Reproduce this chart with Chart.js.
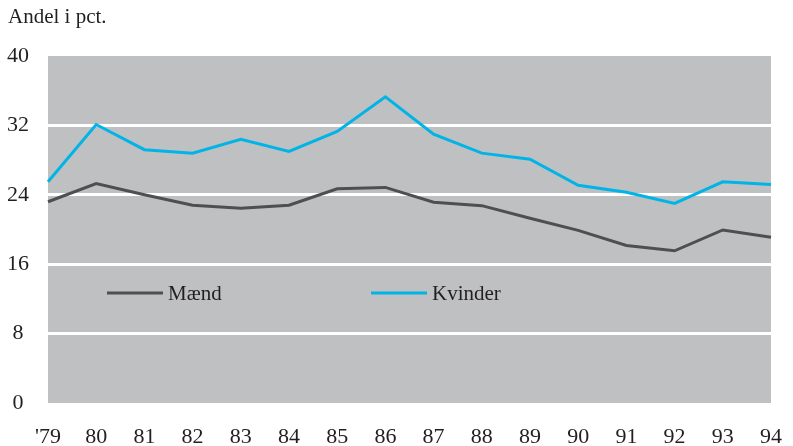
<!DOCTYPE html>
<html>
<head>
<meta charset="utf-8">
<script src="https://cdn.jsdelivr.net/npm/chart.js@4"></script>
<style>
  html, body { margin: 0; padding: 0; background: #fff; }
  #wrap { width: 793px; height: 446px; }
</style>
</head>
<body>
<div id="wrap"><canvas id="chart" width="793" height="446"></canvas></div>
<script>
// Data
const years = ["'79", '80', '81', '82', '83', '84', '85', '86', '87', '88', '89', '90', '91', '92', '93', '94'];
const maend = [23.2, 25.3, 24.0, 22.8, 22.45, 22.8, 24.7, 24.85, 23.15, 22.75, 21.3, 19.9, 18.15, 17.55, 19.95, 19.1];
const kvinder = [25.5, 32.1, 29.2, 28.8, 30.4, 29.0, 31.3, 35.3, 31.0, 28.8, 28.1, 25.1, 24.3, 23.0, 25.5, 25.2];
const yTicks = [0, 8, 16, 24, 32, 40];

const FONT = '"Liberation Serif", "Times New Roman", serif';
const TEXT = '#231f20';

// grey plot background, title and the in-plot legend
const decor = {
  id: 'decor',
  beforeDraw(chart) {
    const { ctx, chartArea: a } = chart;
    ctx.save();
    ctx.fillStyle = '#bfc0c2';
    ctx.fillRect(a.left, a.top, a.right - a.left, a.bottom - a.top);
    ctx.fillStyle = TEXT;
    ctx.font = '21px ' + FONT;
    ctx.textBaseline = 'alphabetic';
    ctx.fillText('Andel i pct.', 8, 23);
    ctx.restore();
  },
  afterDatasetsDraw(chart) {
    const { ctx, chartArea: a } = chart;
    const offsets = [59, 323];
    ctx.save();
    chart.data.datasets.forEach((ds, i) => {
      const x = a.left + offsets[i];
      const y = 293;
      ctx.strokeStyle = ds.borderColor;
      ctx.lineWidth = 3;
      ctx.beginPath();
      ctx.moveTo(x, y);
      ctx.lineTo(x + 56, y);
      ctx.stroke();
      ctx.fillStyle = TEXT;
      ctx.font = '21px ' + FONT;
      ctx.textBaseline = 'middle';
      ctx.fillText(ds.label, x + 61, y + 1);
    });
    ctx.restore();
  }
};

new Chart(document.getElementById('chart'), {
  type: 'line',
  data: {
    labels: years,
    datasets: [
      { label: 'Mænd', data: maend, borderColor: '#4f4f51', borderWidth: 3, pointRadius: 0, tension: 0 },
      { label: 'Kvinder', data: kvinder, borderColor: '#00b4e8', borderWidth: 3, pointRadius: 0, tension: 0 }
    ]
  },
  options: {
    responsive: false,
    animation: false,
    layout: { padding: { top: 56, right: 22, left: 0, bottom: 0 } },
    plugins: { legend: { display: false }, tooltip: { enabled: false } },
    scales: {
      x: {
        offset: false,
        grid: { display: false },
        border: { display: false },
        ticks: { color: TEXT, font: { family: FONT, size: 22, lineHeight: 1 }, padding: 15, maxRotation: 0, autoSkip: false },
        afterFit(s) { s.height = 43; s.paddingLeft = 0; s.paddingRight = 0; }
      },
      y: {
        min: 0,
        max: 40,
        afterBuildTicks(s) { s.ticks = yTicks.map(v => ({ value: v })); },
        grid: {
          drawTicks: false,
          color: c => (c.tick && c.tick.value === 40) ? 'rgba(0,0,0,0)' : '#ffffff',
          lineWidth: c => (c.tick && c.tick.value === 0) ? 1 : 3
        },
        border: { display: false },
        ticks: { color: TEXT, font: { family: FONT, size: 22 }, padding: 19, crossAlign: 'center' },
        afterFit(s) { s.width = 48; }
      }
    }
  },
  plugins: [decor]
});
</script>
</body>
</html>
